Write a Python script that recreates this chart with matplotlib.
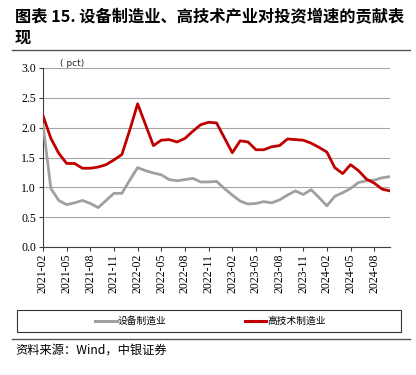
import matplotlib
matplotlib.use("Agg")
import matplotlib.pyplot as plt
from matplotlib.patches import Rectangle
from matplotlib.lines import Line2D

plt.rcParams['font.family'] = ['Noto Sans CJK SC', 'DejaVu Sans']

months = ["2021-02","2021-03","2021-04","2021-05","2021-06","2021-07","2021-08","2021-09","2021-10","2021-11","2021-12",
          "2022-01","2022-02","2022-03","2022-04","2022-05","2022-06","2022-07","2022-08","2022-09","2022-10","2022-11","2022-12",
          "2023-01","2023-02","2023-03","2023-04","2023-05","2023-06","2023-07","2023-08","2023-09","2023-10","2023-11","2023-12",
          "2024-01","2024-02","2024-03","2024-04","2024-05","2024-06","2024-07","2024-08","2024-09","2024-10"]

equipment = [2.05, 0.98, 0.78, 0.71, 0.74, 0.78, 0.73, 0.66, 0.78, 0.90, 0.90,
             1.12, 1.33, 1.28, 1.24, 1.21, 1.13, 1.11, 1.13, 1.15, 1.09, 1.09, 1.10,
             0.98, 0.87, 0.77, 0.72, 0.73, 0.76, 0.74, 0.79, 0.87, 0.94, 0.88, 0.96,
             0.83, 0.69, 0.85, 0.91, 0.98, 1.08, 1.11, 1.12, 1.16, 1.18]

hightech = [2.20, 1.82, 1.57, 1.40, 1.40, 1.32, 1.32, 1.34, 1.38, 1.46, 1.55,
            1.96, 2.40, 2.05, 1.70, 1.79, 1.80, 1.76, 1.82, 1.94, 2.05, 2.09, 2.08,
            1.83, 1.58, 1.78, 1.76, 1.63, 1.63, 1.68, 1.70, 1.81, 1.80, 1.79, 1.74,
            1.67, 1.59, 1.33, 1.23, 1.38, 1.28, 1.14, 1.07, 0.97, 0.94]

series_names = ["设备制造业", "高技术制造业"]
yticks = [0.0, 0.5, 1.0, 1.5, 2.0, 2.5, 3.0]
title = "图表 15. 设备制造业、高技术产业对投资增速的贡献表\n现"
source = "资料来源：Wind，中银证券"
unit = "( pct)"

W, H = 416, 375
fig = plt.figure(figsize=(W/100, H/100), dpi=100)
ax = fig.add_axes([43/W, 1-247/H, (390-43)/W, (247-68)/H])

x = list(range(len(months)))
ax.plot(x, equipment, color='#A0A0A0', lw=2.0, zorder=3)
ax.plot(x, hightech, color='#C00000', lw=2.0, zorder=4)

ax.set_xlim(0, len(months)-1)
ax.set_ylim(0, 3.0)
ax.set_yticks(yticks)
ax.set_yticklabels([f"{v:.1f}" for v in yticks])
ax.yaxis.grid(True, color='#A6A6A6', lw=0.8)
ax.set_axisbelow(True)
tick_idx = list(range(0, len(months), 3))
ax.set_xticks(tick_idx)
ax.set_xticklabels([months[i] for i in tick_idx], rotation=90)
ax.tick_params(axis='both', direction='out', length=3, width=0.8, color='#404040', pad=2,
               labelsize=8.5, labelfontfamily='Liberation Serif')
for s in ['top', 'right']:
    ax.spines[s].set_visible(False)
for s in ['left', 'bottom']:
    ax.spines[s].set_color('#404040')
    ax.spines[s].set_linewidth(0.8)

ax.text(60/W, 1-63/H, unit, transform=fig.transFigure, fontsize=6.5, family='DejaVu Sans', va='center', ha='left', color='#222222')

# title
fig.text(15/W, 1-9/H, title, fontsize=11.7, fontweight='bold', va='top', ha='left', linespacing=1.35)
fig.add_artist(Line2D([12/W, 410/W], [1-50/H, 1-50/H], color='#555555', lw=1.0))

# legend box
fig.add_artist(Rectangle((17/W, 1-332/H), (401-17)/W, 22/H, fill=False, edgecolor='#333333', lw=0.8))
handles = [Line2D([], [], color='#A0A0A0', lw=2.2), Line2D([], [], color='#C00000', lw=2.2)]
fig.legend(handles, series_names, loc='center', bbox_to_anchor=(210.5/W, 1-321/H), ncol=2, frameon=False,
           fontsize=7, handlelength=2.2, handletextpad=0.15, columnspacing=8.0, borderpad=0)

fig.add_artist(Line2D([12/W, 410/W], [1-339/H, 1-339/H], color='#555555', lw=1.0))
fig.text(15/W, 1-350/H, source, fontsize=8.8, style='italic', va='center', ha='left')

fig.savefig("out.png", dpi=100)
